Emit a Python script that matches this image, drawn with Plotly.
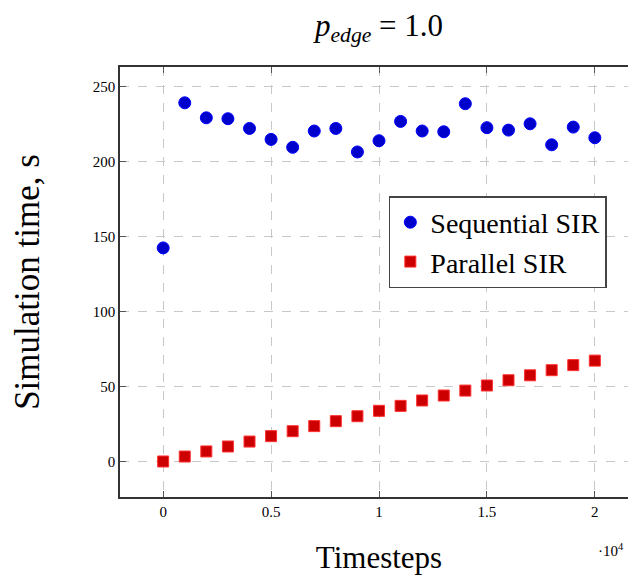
import plotly.graph_objects as go

timesteps = [0, 0.1, 0.2, 0.3, 0.4, 0.5, 0.6, 0.7, 0.8, 0.9, 1.0,
             1.1, 1.2, 1.3, 1.4, 1.5, 1.6, 1.7, 1.8, 1.9, 2.0]
sequential_sir = [142.5, 239.3, 229.3, 228.7, 222.2, 214.9, 209.6, 220.5, 222.2, 206.5, 214.0,
                  226.9, 220.5, 220.0, 238.7, 222.7, 221.1, 225.3, 211.3, 223.1, 216.0]
parallel_sir = [0.0, 3.3, 6.7, 10.0, 13.3, 16.9, 20.2, 23.6, 26.9, 30.2, 33.8,
                37.1, 40.7, 44.0, 47.3, 50.7, 54.2, 57.5, 60.9, 64.3, 67.3]
x_ticks = [0, 0.5, 1, 1.5, 2]
x_tick_labels = ["0", "0.5", "1", "1.5", "2"]
y_ticks = [0, 50, 100, 150, 200, 250]

FONT = "Liberation Serif, DejaVu Serif, serif"

fig = go.Figure()
fig.add_trace(go.Scatter(
    x=timesteps, y=sequential_sir, mode="markers", name="Sequential SIR",
    marker=dict(symbol="circle", size=12, color="#0000CC",
                line=dict(color="#0000FF", width=1))))
fig.add_trace(go.Scatter(
    x=timesteps, y=parallel_sir, mode="markers", name="Parallel SIR",
    marker=dict(symbol="square", size=11, color="#CC0000",
                line=dict(color="#FF3030", width=1))))

fig.update_layout(
    width=636, height=575,
    margin=dict(l=112, r=6, t=59, b=86, autoexpand=False),
    paper_bgcolor="white", plot_bgcolor="white",
    font=dict(family=FONT, color="black"),
    title=dict(text="<i>p</i><sub><i>edge</i></sub> = 1.0", x=0.5, xanchor="center",
               xref="paper", y=0.971, yref="container", yanchor="middle",
               font=dict(size=31, family=FONT)),
    showlegend=True,
    legend=dict(x=0.519, y=0.70, xanchor="left", yanchor="top",
                bgcolor="white", bordercolor="#444444", borderwidth=1.5,
                font=dict(size=28, family=FONT), itemsizing="trace",
                tracegroupgap=0, itemwidth=30),
    xaxis=dict(range=[-0.2, 2.2], tickvals=x_ticks, ticktext=x_tick_labels,
               showgrid=True, gridcolor="#C8C8C8", griddash="dash", gridwidth=1,
               zeroline=False, showline=True, linecolor="#333333", linewidth=1.5,
               mirror="ticks", ticks="inside", ticklen=6, tickcolor="#555555",
               tickfont=dict(size=15, family=FONT), automargin=False,
               title=dict(text="Timesteps", font=dict(size=31, family=FONT), standoff=28)),
    yaxis=dict(range=[-23.7, 263.2], tickvals=y_ticks,
               showgrid=True, gridcolor="#C8C8C8", griddash="dash", gridwidth=1,
               zeroline=False, showline=True, linecolor="#333333", linewidth=1.5,
               mirror="ticks", ticks="inside", ticklen=6, tickcolor="#555555",
               tickfont=dict(size=15, family=FONT), automargin=False,
               title=dict(text="Simulation time, s", font=dict(size=35, family=FONT), standoff=48)),
)

fig.add_annotation(text="·10<sup>4</sup>", xref="paper", yref="paper",
                   x=0.977, y=-0.123, xanchor="right", yanchor="middle",
                   showarrow=False, font=dict(size=15, family=FONT))

fig.write_html("out.html")
